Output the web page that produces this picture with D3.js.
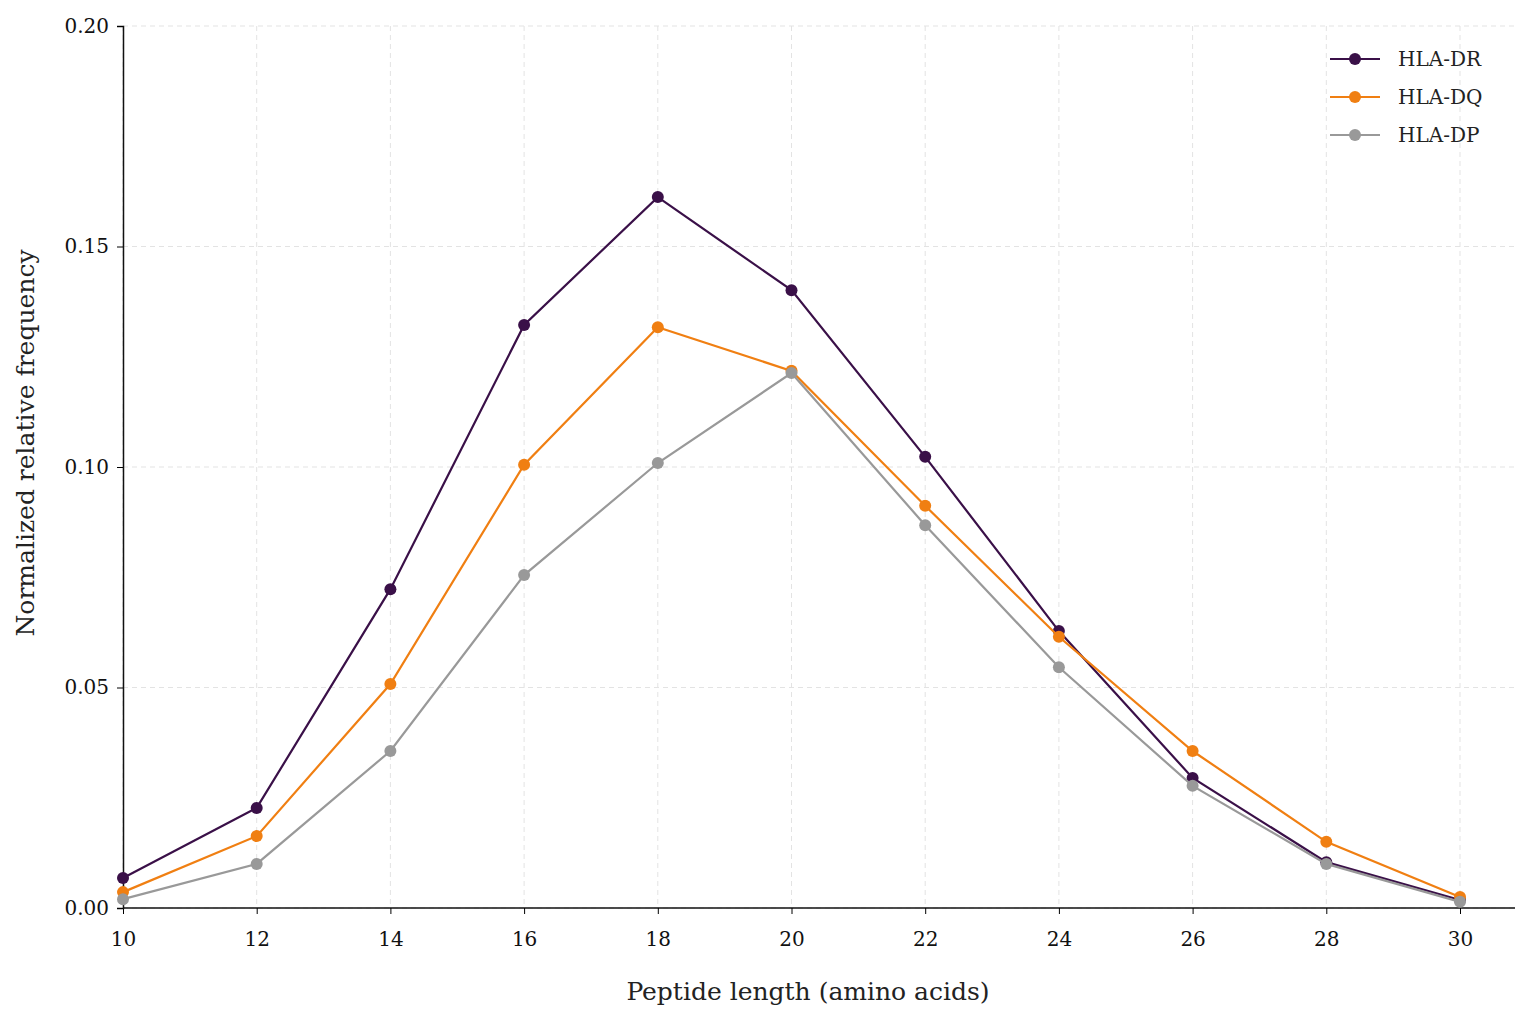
<!DOCTYPE html>
<html><head><meta charset="utf-8">
<script src="https://cdn.jsdelivr.net/npm/d3@7"></script>
<style>body{margin:0;background:#fff}svg{font-family:"DejaVu Serif","Liberation Serif",serif}</style>
</head><body><svg id="c" width="1536" height="1024"></svg>
<script>
var lengths = [10,12,14,16,18,20,22,24,26,28,30];
var hlaDR = [0.0068,0.0227,0.0723,0.1322,0.1612,0.1401,0.1023,0.0628,0.0295,0.0104,0.0018];
var hlaDQ = [0.0036,0.0163,0.0508,0.1005,0.1317,0.1218,0.0912,0.0615,0.0356,0.0150,0.0025];
var hlaDP = [0.0020,0.0100,0.0356,0.0755,0.1009,0.1213,0.0868,0.0546,0.0277,0.0100,0.0014];
var yTicks = [0,0.05,0.10,0.15,0.20];
var series = [
	{name:"HLA-DR", vals:hlaDR, color:"#3a1048"},
	{name:"HLA-DQ", vals:hlaDQ, color:"#f07f12"},
	{name:"HLA-DP", vals:hlaDP, color:"#999999"}
];

var svg = d3.select("#c");
var x = d3.scaleLinear().domain([10,30]).range([123,1460]);
var y = d3.scaleLinear().domain([0,0.20]).range([908,26]);
var xRight = 1515;

// grid
var g = svg.append("g");
lengths.forEach(function(v){
	g.append("line").attr("x1",x(v)).attr("x2",x(v)).attr("y1",26).attr("y2",908)
		.attr("stroke","#e3e3e3").attr("stroke-dasharray","5,4");
});
yTicks.forEach(function(v){
	g.append("line").attr("x1",123).attr("x2",xRight).attr("y1",y(v)).attr("y2",y(v))
		.attr("stroke","#e3e3e3").attr("stroke-dasharray","5,4");
});

// axes
var xa = svg.append("g").attr("transform","translate(0,908)")
	.call(d3.axisBottom(x).tickValues(lengths).tickSizeOuter(0).tickSize(6).tickPadding(10));
xa.select(".domain").attr("d","M123,0H"+xRight);
var ya = svg.append("g").attr("transform","translate(123,0)")
	.call(d3.axisLeft(y).tickValues(yTicks).tickFormat(d3.format(".2f")).tickSizeOuter(0).tickSize(6).tickPadding(8));
svg.selectAll(".tick text").attr("font-size",20).attr("fill","#111").style("font-family","DejaVu Serif, serif");
svg.selectAll(".domain").attr("stroke","#111").attr("stroke-width",1.5);
xa.selectAll(".tick text").attr("dy","1.1em");

svg.append("text").attr("x",808).attr("y",1000).attr("text-anchor","middle")
	.attr("font-size",25).attr("fill","#222").text("Peptide length (amino acids)");
svg.append("text").attr("transform","translate(34,443) rotate(-90)").attr("text-anchor","middle")
	.attr("font-size",25).attr("fill","#222").text("Normalized relative frequency");

var line = d3.line().x(function(d,i){return x(lengths[i]);}).y(function(d){return y(d);});
series.forEach(function(s){
	svg.append("path").datum(s.vals).attr("d",line).attr("fill","none")
		.attr("stroke",s.color).attr("stroke-width",2.2);
	svg.selectAll(null).data(s.vals).enter().append("circle")
		.attr("cx",function(d,i){return x(lengths[i]);}).attr("cy",function(d){return y(d);})
		.attr("r",6).attr("fill",s.color);
});

// legend
series.forEach(function(s,i){
	var ly = 59 + i*38;
	svg.append("line").attr("x1",1330).attr("x2",1380).attr("y1",ly).attr("y2",ly)
		.attr("stroke",s.color).attr("stroke-width",2.2);
	svg.append("circle").attr("cx",1355).attr("cy",ly).attr("r",6).attr("fill",s.color);
	svg.append("text").attr("x",1398).attr("y",ly+7).attr("font-size",20).attr("fill","#222").text(s.name);
});
</script></body></html>
